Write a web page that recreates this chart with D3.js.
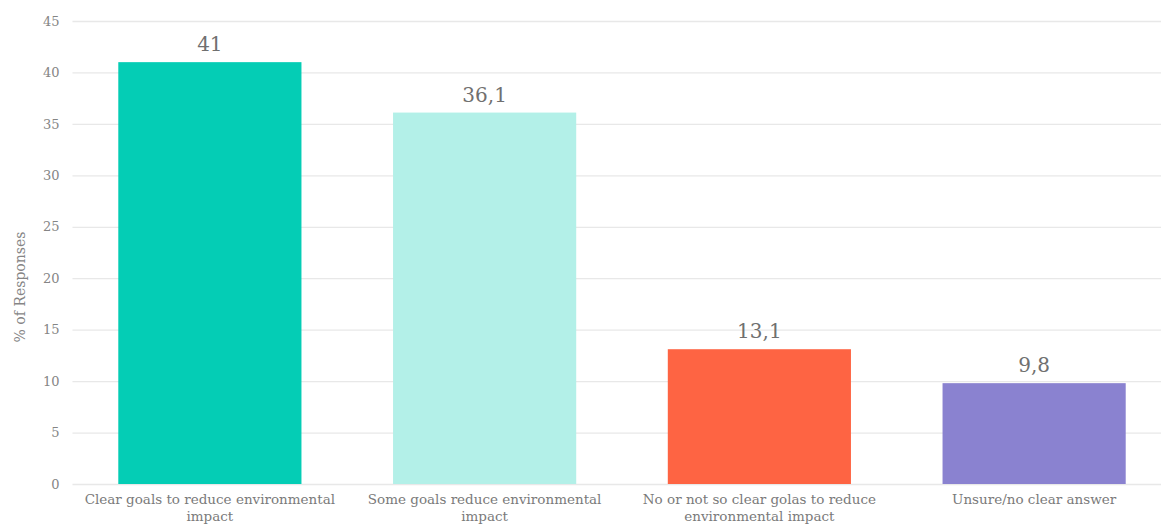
<!DOCTYPE html>
<html>
<head>
<meta charset="utf-8">
<script src="https://cdn.jsdelivr.net/npm/d3@7"></script>
<style>
  html, body { margin: 0; padding: 0; background: #fff; }
  svg { display: block; }
  text { font-family: "DejaVu Serif", "Liberation Serif", serif; }
</style>
</head>
<body>
<svg id="chart" width="1161" height="526"></svg>
<script>
// Survey responses: goals to reduce environmental impact
const categories = [
  ["Clear goals to reduce environmental", "impact"],
  ["Some goals reduce environmental", "impact"],
  ["No or not so clear golas to reduce", "environmental impact"],
  ["Unsure/no clear answer"]
];
const values = [41, 36.1, 13.1, 9.8];
const valueLabels = ["41", "36,1", "13,1", "9,8"];
const colors = ["#04CDB5", "#B3F0E8", "#FE6443", "#8A82D0"];
const yTicks = [0, 5, 10, 15, 20, 25, 30, 35, 40, 45];

const svg = d3.select("#chart");
const margin = { left: 72.5, right: -10.5, top: 21, bottom: 42 };
const W = 1161, H = 526;

const x = d3.scaleBand()
  .domain(d3.range(values.length))
  .range([margin.left, W - margin.right])
  .paddingInner(1 / 3)
  .paddingOuter(1 / 6);

const y = d3.scaleLinear()
  .domain([0, 45])
  .range([H - margin.bottom, margin.top]);

// Gridlines and y tick labels
const yAxis = d3.axisLeft(y)
  .tickValues(yTicks)
  .tickSize(-(W - margin.left))
  .tickPadding(13)
  .tickFormat(d3.format("d"));

const gy = svg.append("g")
  .attr("transform", `translate(${margin.left},0)`)
  .call(yAxis);
gy.select(".domain").remove();
gy.selectAll(".tick line").attr("stroke", "#e8e8e8").attr("stroke-width", 1.3);
gy.selectAll(".tick text")
  .attr("fill", "#858585")
  .style("font-size", "13px");

// Y axis title
svg.append("text")
  .attr("transform", `translate(25,287) rotate(-90)`)
  .attr("text-anchor", "middle")
  .attr("fill", "#858585")
  .style("font-size", "14px")
  .text("% of Responses");

// Bars
svg.append("g")
  .selectAll("rect")
  .data(values)
  .join("rect")
  .attr("x", (d, i) => x(i))
  .attr("width", x.bandwidth())
  .attr("y", d => y(d))
  .attr("height", d => y(0) - y(d))
  .attr("fill", (d, i) => colors[i]);

// Value labels
svg.append("g")
  .selectAll("text")
  .data(values)
  .join("text")
  .attr("x", (d, i) => x(i) + x.bandwidth() / 2)
  .attr("y", d => y(d) - 11)
  .attr("text-anchor", "middle")
  .attr("fill", "#707070")
  .style("font-size", "20px")
  .text((d, i) => valueLabels[i]);

// Category labels (wrapped)
const cat = svg.append("g")
  .selectAll("text")
  .data(categories)
  .join("text")
  .attr("x", (d, i) => x(i) + x.bandwidth() / 2)
  .attr("y", H - margin.bottom + 20)
  .attr("text-anchor", "middle")
  .attr("fill", "#7a7a7a")
  .style("font-size", "13.5px");
cat.selectAll("tspan")
  .data(d => d)
  .join("tspan")
  .attr("x", function () { return d3.select(this.parentNode).attr("x"); })
  .attr("dy", (d, i) => i === 0 ? 0 : 17)
  .text(d => d);
</script>
</body>
</html>
